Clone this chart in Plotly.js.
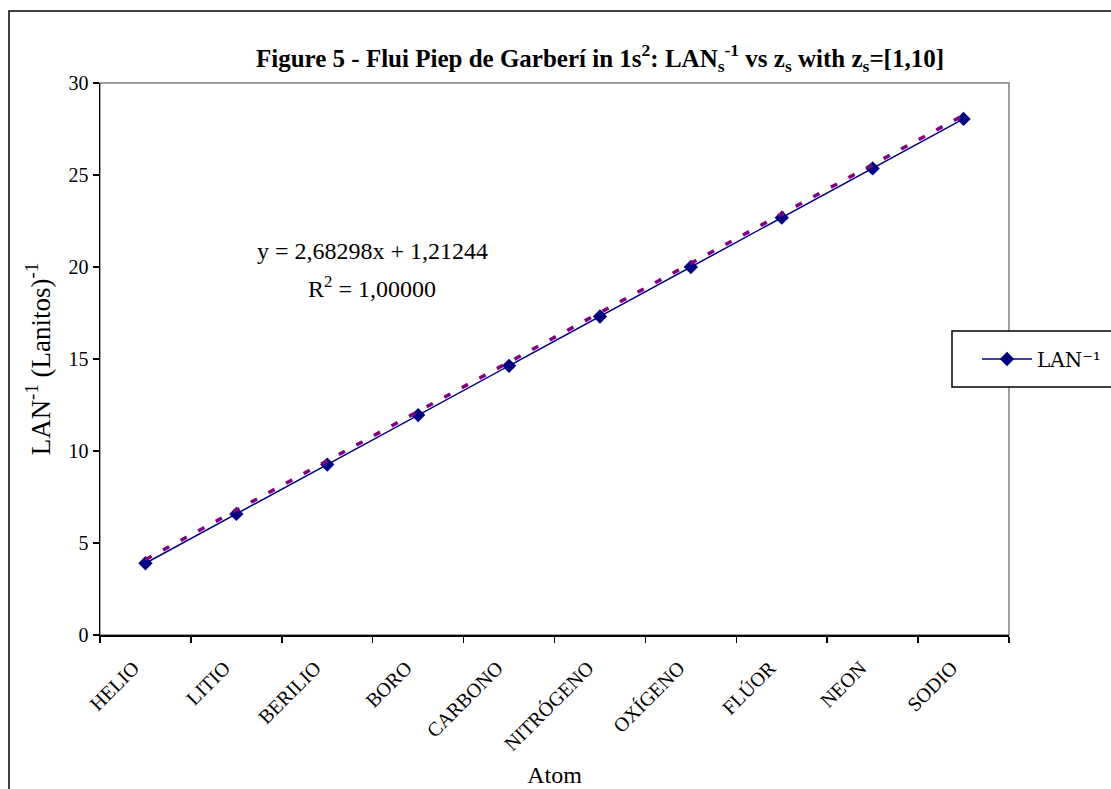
<!DOCTYPE html>
<html>
<head>
<meta charset="utf-8">
<script src="https://cdn.plot.ly/plotly-3.0.1.min.js"></script>
<style>
html,body{margin:0;padding:0;background:#fff;}
#chart{width:1111px;height:789px;}
</style>
</head>
<body>
<div id="chart"></div>
<script>
const atoms = ["HELIO","LITIO","BERILIO","BORO","CARBONO","NITRÓGENO","OXÍGENO","FLÚOR","NEON","SODIO"];
const lanInv = [3.90, 6.58, 9.26, 11.95, 14.63, 17.31, 20.00, 22.68, 25.36, 28.05];
const trendAtoms = ["HELIO","SODIO"];
const trendValues = [4.10, 28.25];
const yTicks = [0,5,10,15,20,25,30];
const equationText = "y = 2,68298x + 1,21244";
const r2Text = "R<sup>2</sup> = 1,00000";

const serif = "Liberation Serif, Times New Roman, serif";

const L = 100, R = 1009, T = 83, B = 635, W = 1111, H = 789;
const pw = R - L, ph = B - T;
const px = v => (v - L) / pw;
const py = v => (B - v) / ph;

const traces = [
  {
    x: atoms, y: lanInv, type: "scatter", mode: "lines+markers",
    name: "LAN⁻¹",
    line: {color: "#000080", width: 1.5},
    marker: {symbol: "diamond", size: 11, color: "#000080"}
  },
  {
    x: trendAtoms, y: trendValues, type: "scatter", mode: "lines",
    line: {color: "#800080", width: 3.5, dash: "7px,13px"},
    showlegend: false, hoverinfo: "skip"
  }
];

const layout = {
  width: W, height: H,
  paper_bgcolor: "#fff", plot_bgcolor: "#fff",
  margin: {l: L, r: W - R, t: T, b: H - B, pad: 0, autoexpand: false},
  font: {family: serif, color: "#000", size: 20},
  title: {
    text: "<b>Figure 5 - Flui Piep de Garberí in 1s<sup>2</sup>: LAN<sub>s</sub><sup>-1</sup> vs z<sub>s</sub> with z<sub>s</sub>=[1,10]</b>",
    font: {family: serif, size: 25, color: "#000"},
    xref: "container", x: 600 / W, xanchor: "center",
    yref: "container", y: 1 - 58 / H, yanchor: "middle"
  },
  xaxis: {
    type: "category",
    categoryorder: "array", categoryarray: atoms,
    range: [-0.5, 9.5],
    tickson: "boundaries",
    ticks: "outside", ticklen: 6, tickwidth: 1.5, tickcolor: "#000",
    showline: true, linecolor: "#000", linewidth: 1.5,
    showgrid: false, zeroline: false,
    tickangle: -45,
    ticklabelshift: -12,
    ticklabelstandoff: 12,
    automargin: false,
    tickfont: {family: serif, size: 20, color: "#000"},
    title: {text: "Atom", font: {family: serif, size: 24, color: "#000"}, standoff: 12}
  },
  yaxis: {
    range: [0, 30],
    tickvals: yTicks,
    ticks: "outside", ticklen: 6, tickwidth: 1.5, tickcolor: "#000",
    showline: true, linecolor: "#000", linewidth: 1.5,
    showgrid: false, zeroline: false,
    automargin: false,
    tickfont: {family: serif, size: 20, color: "#000"},
    title: {text: "LAN<sup>-1</sup> (Lanitos)<sup>-1</sup>", font: {family: serif, size: 27, color: "#000"}, standoff: 10}
  },
  legend: {
    x: px(977), y: py(359), xanchor: "left", yanchor: "middle",
    bgcolor: "rgba(0,0,0,0)", borderwidth: 0,
    itemwidth: 50,
    font: {family: "DejaVu Serif, Liberation Serif, serif", size: 20, color: "#000"},
    tracegroupgap: 0
  },
  annotations: [
    {xref: "paper", yref: "paper", x: px(372), y: py(251), text: equationText,
     showarrow: false, xanchor: "center", yanchor: "middle", font: {family: serif, size: 24, color: "#000"}},
    {xref: "paper", yref: "paper", x: px(372), y: py(287), text: r2Text,
     showarrow: false, xanchor: "center", yanchor: "middle", font: {family: serif, size: 24, color: "#000"}}
  ],
  shapes: [
    {type: "rect", xref: "paper", yref: "paper", x0: 0, x1: 1, y0: 0, y1: 1,
     line: {color: "#808080", width: 1.5}, layer: "below"},
    {type: "rect", xref: "paper", yref: "paper", x0: px(9), x1: px(1120), y0: py(800), y1: py(11),
     line: {color: "#000", width: 1.5}, layer: "below"},
    {type: "rect", xref: "paper", yref: "paper", x0: px(952), x1: px(1120), y0: py(387), y1: py(331),
     line: {color: "#000", width: 1.5}, fillcolor: "#fff", layer: "above"}
  ],
  showlegend: true
};

Plotly.newPlot("chart", traces, layout, {displayModeBar: false, staticPlot: true});
</script>
</body>
</html>
